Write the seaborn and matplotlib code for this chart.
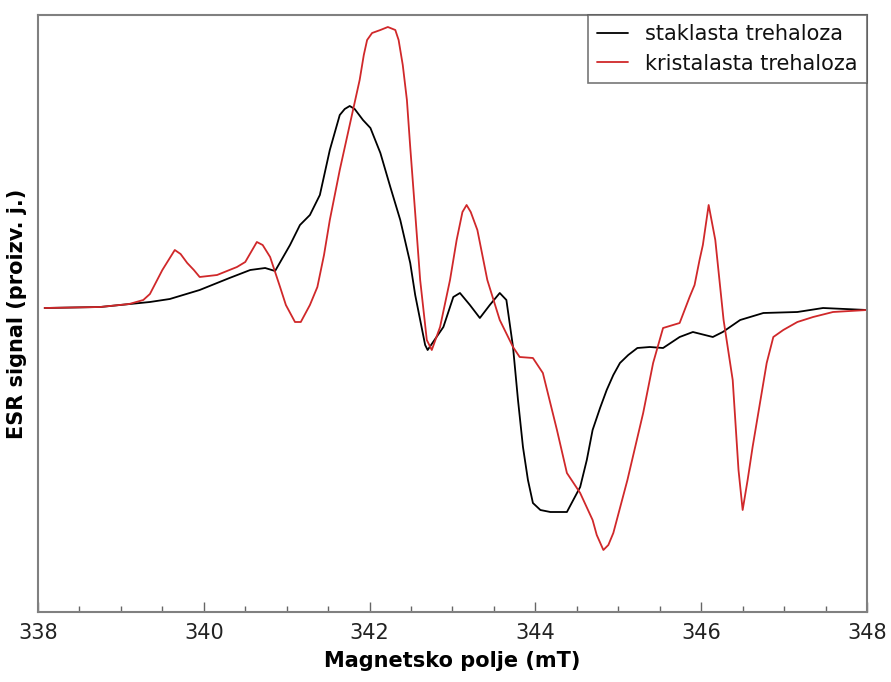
import numpy as np
import pandas as pd
import matplotlib
matplotlib.use("Agg")
import matplotlib.pyplot as plt
from matplotlib.ticker import MultipleLocator
import seaborn as sns

# Glassy trehalose (black)
field_glass = [338.08, 338.75, 339.35, 339.59, 339.95, 340.31, 340.56, 340.74, 340.86, 341.04,
               341.16, 341.28, 341.40, 341.52, 341.64, 341.70, 341.76, 341.82, 341.92, 342.01,
               342.13, 342.25, 342.37, 342.49, 342.55, 342.61, 342.67, 342.70, 342.89, 343.01,
               343.09, 343.21, 343.33, 343.45, 343.57, 343.65, 343.73, 343.79, 343.85, 343.91,
               343.97, 344.06, 344.18, 344.38, 344.54, 344.62, 344.69, 344.78, 344.86, 344.94,
               345.02, 345.12, 345.23, 345.38, 345.54, 345.74, 345.90, 346.14, 346.26, 346.47,
               346.75, 347.16, 347.47, 348.00]
signal_glass = [0, 1, 6, 9, 18, 30, 38, 40, 37, 63,
                83, 93, 113, 158, 193, 199, 202, 199, 188, 180,
                155, 121, 88, 45, 13, -12, -37, -42, -19, 11,
                15, 3, -10, 3, 15, 8, -39, -92, -139, -172,
                -195, -202, -204, -204, -179, -152, -122, -100, -82, -67,
                -55, -47, -40, -39, -40, -29, -24, -29, -24, -12,
                -5, -4, 0, -2]

# Crystalline trehalose (red)
field_cryst = [338.08, 338.75, 339.10, 339.27, 339.35, 339.50, 339.65, 339.72, 339.80, 339.88,
               339.95, 340.16, 340.40, 340.50, 340.64, 340.71, 340.80, 340.92, 340.99, 341.10,
               341.17, 341.28, 341.37, 341.45, 341.52, 341.64, 341.80, 341.88, 341.93, 341.97,
               342.03, 342.13, 342.22, 342.31, 342.35, 342.40, 342.45, 342.49, 342.55, 342.61,
               342.69, 342.75, 342.85, 342.97, 343.05, 343.12, 343.17, 343.22, 343.30, 343.36,
               343.42, 343.57, 343.73, 343.81, 343.97, 344.09, 344.26, 344.38, 344.54, 344.69,
               344.74, 344.82, 344.88, 344.94, 345.11, 345.30, 345.42, 345.54, 345.74, 345.86,
               345.92, 345.98, 346.02, 346.09, 346.17, 346.27, 346.38, 346.45, 346.50, 346.56,
               346.62, 346.79, 346.87, 346.99, 347.16, 347.35, 347.59, 348.00]
signal_cryst = [0, 1, 4, 8, 14, 38, 58, 54, 45, 38,
                31, 33, 41, 46, 66, 63, 51, 21, 3, -14,
                -14, 3, 21, 53, 88, 138, 198, 228, 253, 268,
                275, 278, 281, 278, 268, 243, 208, 161, 95, 28,
                -32, -42, -19, 28, 68, 96, 103, 96, 78, 53,
                28, -12, -39, -49, -50, -65, -122, -165, -185, -212,
                -227, -242, -237, -225, -172, -105, -55, -20, -15, 11,
                23, 48, 63, 103, 68, -12, -72, -162, -202, -172,
                -139, -55, -29, -22, -14, -9, -4, -2]

labels = ["staklasta trehaloza", "kristalasta trehaloza"]
colors = ["#000000", "#d0282a"]

df = pd.concat([
    pd.DataFrame({"B": field_glass, "S": signal_glass, "uzorak": labels[0]}),
    pd.DataFrame({"B": field_cryst, "S": signal_cryst, "uzorak": labels[1]}),
], ignore_index=True)

sns.set_style("white")
plt.rcParams['font.family'] = ['DejaVu Sans']

fig = plt.figure(figsize=(8.91, 6.82), dpi=100)
ax = fig.add_axes([38/891, 1-612/682, (867-38)/891, (612-15)/682])

sns.lineplot(data=df, x="B", y="S", hue="uzorak", palette=dict(zip(labels, colors)),
             sort=False, estimator=None, linewidth=1.3, ax=ax)

ax.set_xlim(338, 348)
ax.set_ylim(-304, 293)
ax.xaxis.set_major_locator(MultipleLocator(2))
ax.xaxis.set_minor_locator(MultipleLocator(0.5))
ax.set_yticks([])
ax.tick_params(axis="x", which="major", direction="in", length=7, width=1, color="#666666",
               labelsize=15, pad=8, bottom=True, labelcolor="#222222")
ax.tick_params(axis="x", which="minor", direction="in", length=4, width=1, color="#666666", bottom=True)
for s in ax.spines.values():
    s.set_color("#808080")
    s.set_linewidth(1.5)

ax.set_xlabel("Magnetsko polje (mT)", fontsize=15, fontweight="bold", labelpad=6, color="black")
ax.set_ylabel("ESR signal (proizv. j.)", fontsize=15, fontweight="bold", labelpad=8, color="black")

leg = ax.legend(loc="upper right", fontsize=15, frameon=True, fancybox=False,
                handlelength=1.5, borderaxespad=0.0, labelspacing=0.45, borderpad=0.45,
                handletextpad=0.8)
leg.get_frame().set_edgecolor("#555555")
leg.get_frame().set_linewidth(1.2)
for t in leg.get_texts():
    t.set_color("#111111")
for line in leg.get_lines():
    line.set_linewidth(1.3)

fig.savefig("out.png", dpi=100)
